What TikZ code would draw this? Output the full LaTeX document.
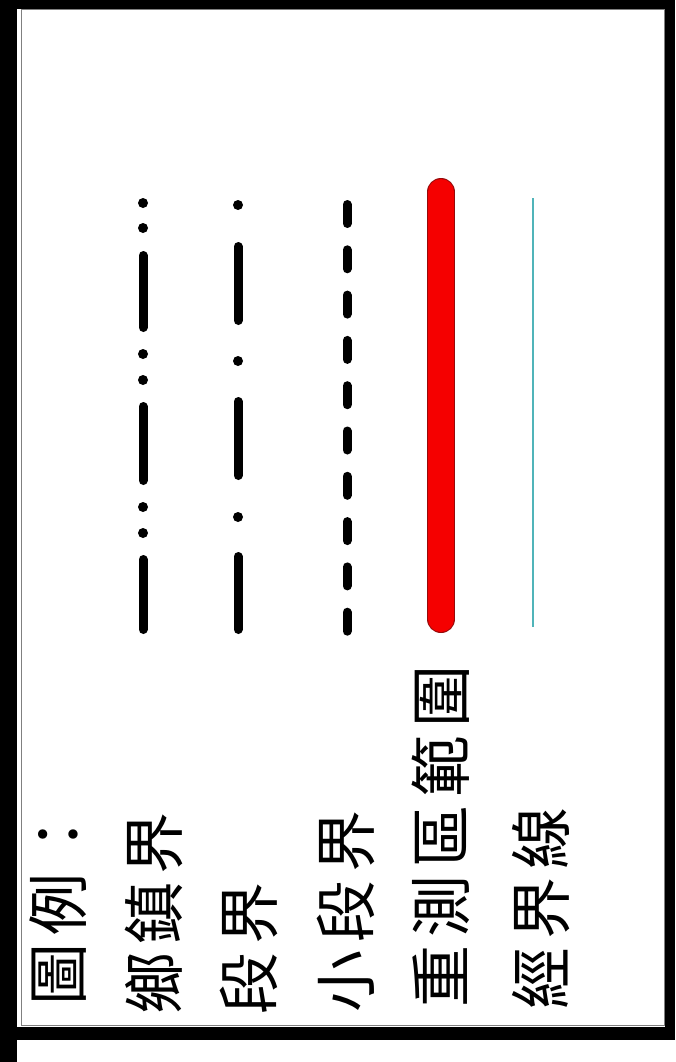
\documentclass[tikz,border=0pt]{standalone}
\usepackage{fontspec}
\newfontfamily\cjkfont{Noto Sans CJK TC}
\definecolor{tealline}{RGB}{80,180,185}
\definecolor{redfill}{RGB}{245,0,0}
\definecolor{rededge}{RGB}{150,10,10}
\newcommand{\chgap}{\hspace{8pt}}
\begin{document}
\begin{tikzpicture}[x=1pt,y=-1pt,
  lbl/.style={rotate=90,anchor=west,inner sep=0pt,font=\cjkfont\fontsize{62}{62}\selectfont},
  blk/.style={line width=9pt,line cap=round,black},
  dotmark/.style={fill=black},
  frame/.style={fill=black}]
\useasboundingbox (0,0) rectangle (675,1062);
% frame
\fill[white] (0,0) rectangle (675,1062);
\fill[frame] (0,0) rectangle (675,9);
\fill[frame] (0,0) rectangle (17,1062);
\fill[frame] (665,0) rectangle (675,1040);
\fill[frame] (17,1027) rectangle (675,1040);
\draw[gray,line width=1pt] (21,10) rectangle (664,1025);
% labels
\node[lbl] (t0) at (58,1006) {圖\chgap 例\chgap ：};
\node[lbl] (t1) at (154,1015) {鄉\chgap 鎮\chgap 界};
\node[lbl] (t2) at (249,1015) {段\chgap 界};
\node[lbl] (t3) at (346,1013) {小\chgap 段\chgap 界};
\node[lbl] (t4) at (441,1008) {重\chgap 測\chgap 區\chgap 範\chgap 圍};
\node[lbl] (t5) at (541,1010) {經\chgap 界\chgap 線};
% line 1: dash dot dot
\foreach \y in {203,228,354,380,507,533} \fill[dotmark] (143,\y) circle (5);
\draw[blk] (143,255.5) -- (143,327.5);
\draw[blk] (143,406.5) -- (143,480.5);
\draw[blk] (143,559.5) -- (143,629.5);
% line 2: dash dot
\foreach \y in {205,361,517} \fill[dotmark] (238,\y) circle (5);
\draw[blk] (238,246.5) -- (238,320.5);
\draw[blk] (238,401.5) -- (238,475.5);
\draw[blk] (238,556.5) -- (238,629.5);
% line 3: dashed
\foreach \i in {0,...,9} {
  \pgfmathsetmacro{\ya}{200+45.3*\i+4.5}
  \pgfmathsetmacro{\yb}{200+45.3*\i+23.5}
  \draw[blk] (347,\ya) -- (347,\yb);
}
% red line
\draw[line width=28pt,line cap=round,rededge] (441,192) -- (441,619);
\draw[line width=26pt,line cap=round,redfill] (441,192) -- (441,619);
% teal line
\draw[line width=1.5pt,tealline] (533,198) -- (533,627);
\end{tikzpicture}
\end{document}
